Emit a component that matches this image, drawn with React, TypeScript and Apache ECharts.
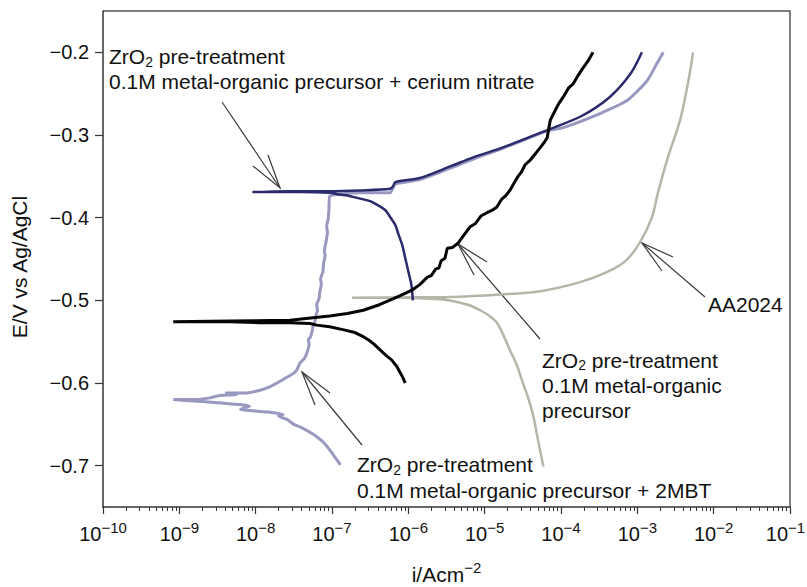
import React, { useEffect, useRef } from 'react';
import * as echarts from 'echarts';

// Each point: [log10(i / A cm^-2), E / V vs Ag/AgCl]
const aa2024Curve: [number, number][] = [
  [-4.23, -0.701], [-4.30, -0.670], [-4.36, -0.641], [-4.43, -0.618], [-4.50, -0.600],
  [-4.58, -0.578], [-4.67, -0.560], [-4.75, -0.543], [-4.84, -0.527], [-4.95, -0.518],
  [-5.06, -0.512], [-5.20, -0.506], [-5.36, -0.502], [-5.55, -0.499], [-5.71, -0.498],
  [-6.11, -0.497], [-6.74, -0.497],
  [-6.11, -0.4965], [-5.45, -0.496], [-4.80, -0.493], [-4.27, -0.489], [-3.75, -0.478],
  [-3.40, -0.466], [-3.15, -0.452], [-2.96, -0.429], [-2.81, -0.400], [-2.73, -0.370],
  [-2.61, -0.330], [-2.44, -0.282], [-2.33, -0.234], [-2.27, -0.200],
];

const mbtCurve: [number, number][] = [
  [-6.89, -0.699], [-6.96, -0.690], [-7.03, -0.681], [-7.11, -0.672], [-7.20, -0.665],
  [-7.30, -0.659], [-7.42, -0.653], [-7.50, -0.650], [-7.59, -0.644], [-7.70, -0.640],
  [-7.64, -0.638], [-7.85, -0.635], [-8.00, -0.634], [-8.20, -0.632], [-8.08, -0.628],
  [-8.47, -0.624], [-8.62, -0.623], [-8.77, -0.622], [-9.08, -0.620],
  [-8.80, -0.620], [-8.60, -0.618], [-8.47, -0.615], [-8.25, -0.614], [-8.40, -0.612],
  [-8.11, -0.612], [-7.95, -0.609], [-7.85, -0.606], [-7.72, -0.600], [-7.59, -0.593],
  [-7.50, -0.588], [-7.46, -0.584], [-7.42, -0.576], [-7.36, -0.570], [-7.33, -0.564],
  [-7.30, -0.553], [-7.31, -0.548], [-7.28, -0.544], [-7.26, -0.537], [-7.25, -0.532],
  [-7.22, -0.524], [-7.21, -0.518], [-7.19, -0.512], [-7.20, -0.505], [-7.17, -0.498],
  [-7.16, -0.490], [-7.14, -0.480], [-7.15, -0.474], [-7.12, -0.466], [-7.11, -0.455],
  [-7.09, -0.446], [-7.10, -0.440], [-7.08, -0.430], [-7.06, -0.418], [-7.07, -0.410],
  [-7.05, -0.402], [-7.04, -0.390], [-7.03, -0.374],
  [-6.63, -0.370], [-6.24, -0.370], [-6.20, -0.364], [-6.17, -0.359], [-5.85, -0.354],
  [-5.45, -0.340], [-5.15, -0.329], [-4.76, -0.316], [-4.18, -0.295], [-3.97, -0.291],
  [-3.49, -0.274], [-3.13, -0.258], [-2.87, -0.234], [-2.74, -0.213], [-2.66, -0.200],
];

const ceriumCurve: [number, number][] = [
  [-5.94, -0.500], [-5.95, -0.490], [-5.96, -0.481], [-5.99, -0.469], [-6.02, -0.457],
  [-6.05, -0.445], [-6.08, -0.433], [-6.13, -0.420], [-6.17, -0.409], [-6.24, -0.399],
  [-6.30, -0.391], [-6.40, -0.385], [-6.50, -0.380], [-6.63, -0.377], [-6.76, -0.374],
  [-6.90, -0.372], [-7.03, -0.370], [-7.42, -0.369], [-8.03, -0.369],
  [-7.55, -0.368], [-7.03, -0.368], [-6.63, -0.367], [-6.24, -0.365], [-6.20, -0.362],
  [-6.17, -0.357], [-5.85, -0.352], [-5.45, -0.338], [-5.15, -0.327], [-4.76, -0.315],
  [-4.18, -0.294], [-3.73, -0.277], [-3.36, -0.254], [-3.09, -0.226], [-2.94, -0.200],
];

const precursorCurve: [number, number][] = [
  [-6.04, -0.600], [-6.08, -0.592], [-6.11, -0.587], [-6.15, -0.580], [-6.22, -0.572],
  [-6.30, -0.566], [-6.37, -0.560], [-6.45, -0.553], [-6.52, -0.548], [-6.59, -0.544],
  [-6.70, -0.539], [-6.83, -0.536], [-7.03, -0.532], [-7.20, -0.530], [-7.29, -0.528],
  [-7.55, -0.527], [-7.94, -0.527], [-8.34, -0.526], [-9.08, -0.526],
  [-8.34, -0.525], [-7.55, -0.524], [-7.25, -0.521], [-7.03, -0.519], [-6.80, -0.516],
  [-6.59, -0.512], [-6.37, -0.505], [-6.15, -0.496], [-6.05, -0.492], [-5.94, -0.487],
  [-5.85, -0.481], [-5.75, -0.472], [-5.70, -0.470], [-5.64, -0.462], [-5.60, -0.461],
  [-5.57, -0.452], [-5.52, -0.449], [-5.49, -0.437], [-5.42, -0.436], [-5.35, -0.431],
  [-5.28, -0.422], [-5.19, -0.411], [-5.12, -0.407], [-5.05, -0.398], [-4.97, -0.394],
  [-4.90, -0.391], [-4.84, -0.387], [-4.78, -0.378], [-4.72, -0.373], [-4.67, -0.367],
  [-4.62, -0.359], [-4.57, -0.351], [-4.52, -0.345], [-4.47, -0.336], [-4.40, -0.330],
  [-4.33, -0.322], [-4.27, -0.315], [-4.22, -0.309], [-4.18, -0.303], [-4.16, -0.292],
  [-4.14, -0.282], [-4.08, -0.271], [-4.03, -0.262], [-3.97, -0.254], [-3.90, -0.243],
  [-3.84, -0.238], [-3.79, -0.230], [-3.72, -0.220], [-3.65, -0.211], [-3.58, -0.200],
];

const xTickExponents = [-10, -9, -8, -7, -6, -5, -4, -3, -2, -1];
const yTickValues = [-0.7, -0.6, -0.5, -0.4, -0.3, -0.2];

const FONT = '"Liberation Sans", Arial, Helvetica, sans-serif';
const INK = '#111';
const AXIS = '#333';

const GRID = { left: 103, top: 11, width: 687, height: 496 };

const minorTickLogs: number[] = [];
for (let d = xTickExponents[0]; d < xTickExponents[xTickExponents.length - 1]; d++) {
  for (let k = 2; k <= 9; k++) minorTickLogs.push(d + Math.log10(k));
}

const toData = (c: [number, number][]) => c.map(([l, e]) => [Math.pow(10, l), e]);

const textRich = {
  a: { fontSize: 21, fontFamily: FONT, color: INK, lineHeight: 21 },
  s: { fontSize: 14, fontFamily: FONT, color: INK, padding: [10, 0, 0, 0] },
};

const label = (x: number, y: number, text: string) => ({
  type: 'text',
  x,
  y,
  silent: true,
  style: {
    text,
    rich: textRich,
    fontSize: 21,
    fontFamily: FONT,
    fill: INK,
    align: 'left',
    verticalAlign: 'middle',
  },
});

const arrow = (
  from: [number, number],
  tip: [number, number],
  h1: [number, number],
  h2: [number, number]
) => ({
  type: 'group',
  silent: true,
  children: [
    {
      type: 'line',
      shape: { x1: from[0], y1: from[1], x2: tip[0], y2: tip[1] },
      style: { stroke: '#3a3a3a', lineWidth: 1.2 },
    },
    {
      type: 'polyline',
      shape: { points: [h1, tip, h2] },
      style: { stroke: '#3a3a3a', lineWidth: 1.2, fill: 'none' },
    },
  ],
});

const lastExp = xTickExponents[xTickExponents.length - 1];

const option: any = {
  animation: false,
  backgroundColor: '#fff',
  textStyle: { fontFamily: FONT },
  grid: {
    left: GRID.left,
    top: GRID.top,
    width: GRID.width,
    height: GRID.height,
    containLabel: false,
    outerBoundsMode: 'none',
    show: false,
  },
  xAxis: [
    {
      type: 'log',
      logBase: 10,
      min: Math.pow(10, xTickExponents[0]),
      max: Math.pow(10, lastExp),
      position: 'bottom',
      axisLine: { show: true, lineStyle: { color: AXIS, width: 1.5 } },
      axisTick: { show: true, inside: false, length: 7, lineStyle: { color: AXIS, width: 1.2 } },
      minorTick: { show: false },
      splitLine: { show: false },
      axisLabel: {
        margin: 13,
        color: INK,
        formatter: (v: number) => {
          const e = Math.round(Math.log10(v));
          const sup = e === lastExp ? 'sr' : 's';
          return '{b|10}{' + sup + '|' + (e < 0 ? '\u2212' : '') + Math.abs(e) + '}';
        },
        rich: {
          b: { fontSize: 20, fontFamily: FONT, color: INK },
          s: { fontSize: 15, fontFamily: FONT, color: INK, padding: [0, 0, 13, 0] },
          sr: { fontSize: 15, fontFamily: FONT, color: INK, padding: [0, 9, 13, 0] },
        },
      },
      name: '{a|i/Acm}{s|\u22122}',
      nameLocation: 'middle',
      nameGap: 53,
      nameTextStyle: {
        rich: {
          a: { fontSize: 21, fontFamily: FONT, color: INK },
          s: { fontSize: 15, fontFamily: FONT, color: INK, padding: [0, 0, 13, 0] },
        },
      },
    },
    {
      type: 'value',
      min: xTickExponents[0],
      max: lastExp,
      position: 'bottom',
      axisLine: { show: false },
      axisTick: {
        show: true,
        inside: false,
        length: 4,
        customValues: minorTickLogs,
        lineStyle: { color: AXIS, width: 1 },
      },
      axisLabel: { show: false },
      splitLine: { show: false },
    },
  ],
  yAxis: {
    type: 'value',
    min: -0.75,
    max: -0.15,
    position: 'left',
    axisLine: { show: true, lineStyle: { color: AXIS, width: 1.5 } },
    axisTick: {
      show: true,
      inside: false,
      length: 8,
      customValues: yTickValues,
      lineStyle: { color: AXIS, width: 1.2 },
    },
    axisLabel: {
      customValues: yTickValues,
      margin: 14,
      color: INK,
      fontSize: 20,
      fontFamily: FONT,
      formatter: (v: number) => '\u2212' + Math.abs(v).toFixed(1),
    },
    splitLine: { show: false },
  },
  series: [
    {
      name: 'AA2024',
      type: 'line',
      showSymbol: false,
      symbol: 'none',
      smooth: 0.3,
      lineStyle: { color: '#b4b7a8', width: 2.5 },
      data: toData(aa2024Curve),
    },
    {
      name: '2MBT',
      type: 'line',
      showSymbol: false,
      symbol: 'none',
      smooth: 0.2,
      lineStyle: { color: '#9898c0', width: 3 },
      data: toData(mbtCurve),
    },
    {
      name: 'cerium nitrate',
      type: 'line',
      showSymbol: false,
      symbol: 'none',
      smooth: 0.3,
      lineStyle: { color: '#2b2a6c', width: 2.5 },
      data: toData(ceriumCurve),
    },
    {
      name: 'metal-organic precursor',
      type: 'line',
      showSymbol: false,
      symbol: 'none',
      lineStyle: { color: '#050505', width: 3 },
      data: toData(precursorCurve),
    },
  ],
  graphic: [
    {
      type: 'polyline',
      silent: true,
      shape: {
        points: [
          [GRID.left, GRID.top],
          [GRID.left + GRID.width, GRID.top],
          [GRID.left + GRID.width, GRID.top + GRID.height],
        ],
      },
      style: { stroke: '#555', lineWidth: 1.5, fill: 'none' },
    },
    {
      type: 'text',
      x: 19,
      y: 267,
      rotation: Math.PI / 2,
      silent: true,
      style: {
        text: 'E/V vs Ag/AgCl',
        fontSize: 21,
        fontFamily: FONT,
        fill: INK,
        align: 'center',
        verticalAlign: 'middle',
      },
    },
    label(109, 56.5, '{a|ZrO}{s|2}{a| pre-treatment}'),
    label(109, 81.5, '{a|0.1M metal-organic precursor + cerium nitrate}'),
    arrow([222, 102], [280, 188], [253, 166], [268, 155]),
    label(708, 304.5, '{a|AA2024}'),
    arrow([705, 297], [642, 243], [673, 257], [662, 271]),
    label(542, 360, '{a|ZrO}{s|2}{a| pre-treatment}'),
    label(542, 385.5, '{a|0.1M metal-organic}'),
    label(542, 410, '{a|precursor}'),
    arrow([540, 339], [458, 244], [487, 262], [474, 275]),
    label(357, 464.5, '{a|ZrO}{s|2}{a| pre-treatment}'),
    label(357, 490, '{a|0.1M metal-organic precursor + 2MBT}'),
    arrow([362, 445], [302, 372], [330, 393], [315, 405]),
  ],
};

export default function App() {
  const ref = useRef<HTMLDivElement>(null);
  useEffect(() => {
    if (!ref.current) return;
    const chart = echarts.init(ref.current, null, { renderer: 'svg' });
    chart.setOption(option);
    return () => chart.dispose();
  }, []);
  return (
    <div
      ref={ref}
      style={{ position: 'absolute', left: 0, top: 0, width: 807, height: 587, background: '#fff' }}
    />
  );
}
